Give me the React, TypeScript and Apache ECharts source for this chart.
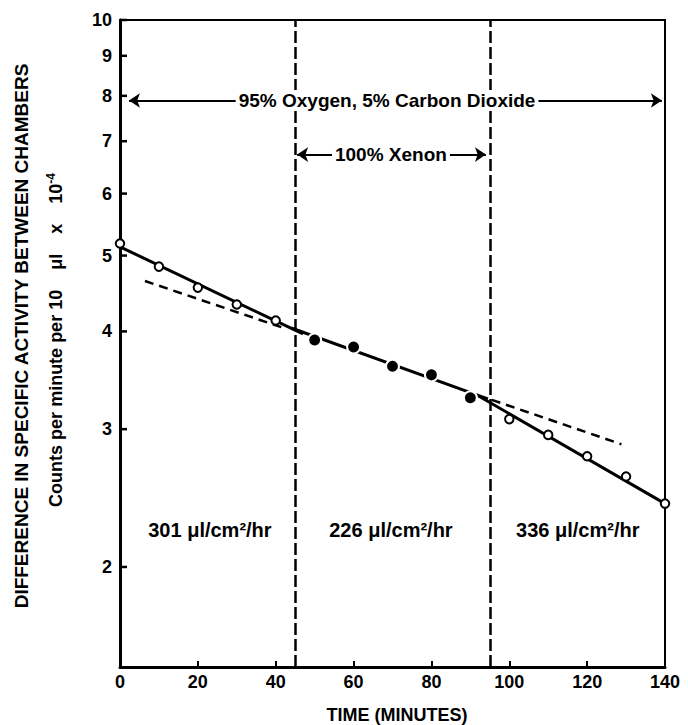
import React, { useEffect, useRef } from 'react';
import * as echarts from 'echarts';

// ---- data ----
const timeMin = 0;
const timeMax = 140;
const timeInterval = 20;
const activityMin = 1.49;
const activityMax = 10;
const activityTicks = [2, 3, 4, 5, 6, 7, 8, 9, 10];

// measured points (time in minutes, counts/min per 10 µl x 10^-4)
const oxygenBefore = [[0, 5.18], [10, 4.84], [20, 4.55], [30, 4.33], [40, 4.13]];
const xenonPeriod = [[50, 3.9], [60, 3.82], [70, 3.61], [80, 3.52], [90, 3.29]];
const oxygenAfter = [[100, 3.09], [110, 2.95], [120, 2.77], [130, 2.61], [140, 2.41]];

// fitted lines
const fitBefore = [[0, 5.13], [47, 3.97]];
const fitXenon = [[44, 4.04], [94.5, 3.28]];
const fitAfter = [[92, 3.31], [140, 2.41]];
// extrapolations of the xenon line (short dashes)
const extBefore = [[6.4, 4.64], [42.7, 4.03]];
const extAfter = [[95.5, 3.27], [128.8, 2.87]];

// gas changes
const gasChangeTimes = [45, 95];

// annotations
const oxygenText = '95% Oxygen, 5% Carbon Dioxide';
const oxygenSpan = [2.3, 139.2];
const oxygenLevel = 7.89;
const oxygenTextAt = 68.6;
const xenonText = '100% Xenon';
const xenonSpan = [45.5, 94.0];
const xenonLevel = 6.73;
const xenonTextAt = 69.6;

const rateTexts = ['301 μl/cm²/hr', '226 μl/cm²/hr', '336 μl/cm²/hr'];
const rateTimes = [23.1, 69.6, 117.6];
const rateLevel = 2.23;

const xTitle = 'TIME (MINUTES)';
const yTitle1 = 'DIFFERENCE IN SPECIFIC ACTIVITY BETWEEN CHAMBERS';
const yTitle2 = 'Counts per minute per 10    μl    x    10';
const yTitle2Exp = '-4';

const SANS = 'Liberation Sans';

export default function App() {
  const ref = useRef<HTMLDivElement>(null);

  useEffect(() => {
    if (!ref.current) return;
    const chart = echarts.init(ref.current, undefined, { renderer: 'svg' });

    const fitStyle = { color: '#000', width: 3, type: 'solid' };
    const lineSeries = (name: string, data: number[][], lineStyle: any, extra: any = {}) => ({
      type: 'line',
      name,
      data,
      showSymbol: false,
      symbol: 'none',
      lineStyle,
      silent: true,
      z: 2,
      ...extra,
    });

    const option: any = {
      animation: false,
      backgroundColor: '#fff',
      grid: {
        left: 120,
        top: 20,
        right: 23,
        bottom: 58,
        show: true,
        borderColor: '#000',
        borderWidth: 2,
        backgroundColor: 'transparent',
        outerBoundsMode: 'none',
      },
      xAxis: {
        type: 'value',
        min: timeMin,
        max: timeMax,
        interval: timeInterval,
        name: xTitle,
        nameLocation: 'middle',
        nameGap: 39,
        nameTextStyle: {
          fontFamily: SANS,
          fontWeight: 'bold',
          fontSize: 18,
          color: '#000',
          padding: [0, 0, 0, 9],
        },
        axisLine: { show: true, onZero: false, lineStyle: { color: '#000', width: 3 } },
        axisTick: { show: true, inside: true, length: 6, lineStyle: { color: '#000', width: 2 } },
        axisLabel: { fontFamily: SANS, fontWeight: 'bold', fontSize: 18, color: '#000', margin: 6 },
        splitLine: { show: false },
      },
      yAxis: {
        type: 'log',
        logBase: 10,
        min: activityMin,
        max: activityMax,
        axisLine: { show: true, onZero: false, lineStyle: { color: '#000', width: 3 } },
        axisTick: { show: false },
        axisLabel: { show: false },
        splitLine: { show: false },
        minorTick: { show: false },
      },
      graphic: [
        {
          type: 'text',
          x: 21,
          y: 336,
          rotation: Math.PI / 2,
          style: {
            text: yTitle1,
            fontFamily: SANS,
            fontWeight: 'bold',
            fontSize: 19,
            fill: '#000',
            align: 'center',
            verticalAlign: 'middle',
          },
        },
        {
          type: 'text',
          x: 56,
          y: 340,
          rotation: Math.PI / 2,
          style: {
            text: '{a|' + yTitle2 + '}{s|' + yTitle2Exp + '}',
            align: 'center',
            verticalAlign: 'middle',
            fill: '#000',
            rich: {
              a: { fontFamily: SANS, fontWeight: 'bold', fontSize: 18, fill: '#000' },
              s: { fontFamily: SANS, fontWeight: 'bold', fontSize: 12, fill: '#000', padding: [0, 0, 11, 0] },
            },
          },
        },
      ],
      series: [
        // y axis ticks & labels on the log scale
        {
          type: 'scatter',
          name: 'yticks',
          data: activityTicks.map((v) => [0, v]),
          symbol: 'rect',
          symbolSize: [7, 2.5],
          symbolOffset: [3.5, 0],
          itemStyle: { color: '#000', opacity: 1 },
          clip: false,
          silent: true,
          z: 6,
          label: {
            show: true,
            position: 'left',
            distance: 8,
            fontFamily: SANS,
            fontWeight: 'bold',
            fontSize: 18,
            color: '#000',
            opacity: 1,
            formatter: (p: any) => String(p.value[1]),
          },
        },
        lineSeries('extBefore', extBefore, { color: '#000', width: 2.5, type: [9, 6] }),
        lineSeries('extAfter', extAfter, { color: '#000', width: 2.5, type: [9, 6] }),
        lineSeries('fitBefore', fitBefore, fitStyle, {
          markLine: {
            silent: true,
            animation: false,
            symbol: ['arrow', 'arrow'],
            symbolSize: 11,
            label: { show: false },
            lineStyle: { color: '#000', width: 2, type: 'solid' },
            data: [
              [{ coord: [oxygenSpan[0], oxygenLevel] }, { coord: [oxygenSpan[1], oxygenLevel] }],
              [{ coord: [xenonSpan[0], xenonLevel] }, { coord: [xenonSpan[1], xenonLevel] }],
            ],
          },
        }),
        lineSeries('fitXenon', fitXenon, fitStyle, {
          markLine: {
            silent: true,
            animation: false,
            symbol: ['none', 'none'],
            label: { show: false },
            lineStyle: { color: '#000', width: 2.5, type: [12, 4] },
            data: gasChangeTimes.map((t) => ({ xAxis: t })),
          },
        }),
        lineSeries('fitAfter', fitAfter, fitStyle),
        {
          type: 'scatter',
          name: 'oxygenBefore',
          data: oxygenBefore,
          symbol: 'circle',
          symbolSize: 8.5,
          itemStyle: { color: '#fff', borderColor: '#000', borderWidth: 2, opacity: 1 },
          z: 4,
          silent: true,
        },
        {
          type: 'scatter',
          name: 'xenon',
          data: xenonPeriod,
          symbol: 'circle',
          symbolSize: 13,
          itemStyle: { color: '#000', borderColor: '#fff', borderWidth: 2, opacity: 1 },
          z: 4,
          silent: true,
        },
        {
          type: 'scatter',
          name: 'oxygenAfter',
          data: oxygenAfter,
          symbol: 'circle',
          symbolSize: 8.5,
          itemStyle: { color: '#fff', borderColor: '#000', borderWidth: 2, opacity: 1 },
          z: 4,
          silent: true,
        },
        // annotation texts
        {
          type: 'scatter',
          name: 'gasTexts',
          data: [
            { value: [oxygenTextAt, oxygenLevel], name: oxygenText },
            { value: [xenonTextAt, xenonLevel], name: xenonText },
          ],
          symbolSize: 0.1,
          itemStyle: { color: 'transparent', opacity: 1 },
          silent: true,
          z: 8,
          label: {
            show: true,
            position: 'inside',
            formatter: '{b}',
            fontFamily: SANS,
            fontWeight: 'bold',
            fontSize: 19,
            color: '#000',
            opacity: 1,
            backgroundColor: '#fff',
            padding: [1, 3],
          },
        },
        {
          type: 'scatter',
          name: 'rateTexts',
          data: rateTexts.map((t, i) => ({ value: [rateTimes[i], rateLevel], name: t })),
          symbolSize: 0.1,
          itemStyle: { color: 'transparent', opacity: 1 },
          silent: true,
          z: 8,
          label: {
            show: true,
            position: 'inside',
            formatter: '{b}',
            fontFamily: SANS,
            fontWeight: 'bold',
            fontSize: 20,
            color: '#000',
            opacity: 1,
          },
        },
      ],
    };

    chart.setOption(option);
    return () => chart.dispose();
  }, []);

  return (
    <div
      ref={ref}
      style={{ position: 'fixed', left: 0, top: 0, width: 688, height: 725, background: '#fff' }}
    />
  );
}
